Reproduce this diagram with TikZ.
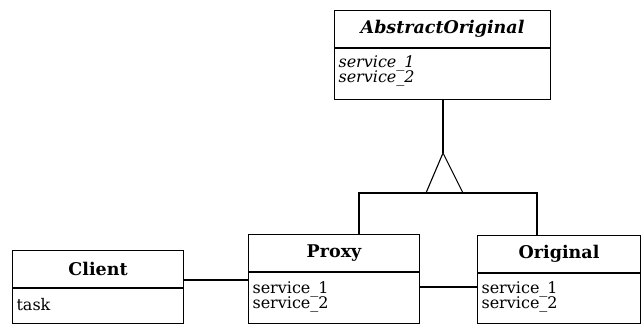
\documentclass[tikz,border=0pt]{standalone}
\usepackage{fontspec}
\setmainfont{DejaVu Serif}
\begin{document}
\begin{tikzpicture}[x=1pt,y=-1pt,line width=1.1pt,
  part/.style={draw,rectangle,inner sep=0pt,anchor=north west},
  ttl/.style={font=\fontsize{17.5}{17.5}\selectfont\bfseries},
  mem/.style={font=\fontsize{16}{16}\selectfont,anchor=base west,inner sep=0pt}]
\useasboundingbox (0,0) rectangle (641,324);
% AbstractOriginal
\node[part,ttl,minimum width=216pt,minimum height=37pt] (aoT) at (334,10) {\textit{AbstractOriginal}};
\node[part,minimum width=216pt,minimum height=51pt] (aoB) at (aoT.south west) {};
\node[mem] (ao1) at (338,67) {\textit{service\_1}};
\node[mem] (ao2) at (338,82) {\textit{service\_2}};
% Client
\node[part,ttl,minimum width=171pt,minimum height=37pt] (clientT) at (12,250) {Client};
\node[part,minimum width=171pt,minimum height=35pt] (clientB) at (clientT.south west) {};
\node[mem] (c1) at (16,310) {task};
% Proxy
\node[part,ttl,minimum width=171pt,minimum height=37pt] (proxyT) at (248,234) {Proxy};
\node[part,minimum width=171pt,minimum height=51pt] (proxyB) at (proxyT.south west) {};
\node[mem] (p1) at (252,293) {service\_1};
\node[mem] (p2) at (252,308) {service\_2};
% Original
\node[part,ttl,minimum width=163pt,minimum height=37pt] (origT) at (477,235) {Original};
\node[part,minimum width=163pt,minimum height=50pt] (origB) at (origT.south west) {};
\node[mem] (o1) at (481,293) {service\_1};
\node[mem] (o2) at (481,308) {service\_2};
% inheritance
\coordinate (apex) at (443,153);
\coordinate (tl) at (426,193);
\coordinate (tr) at (463,193);
\coordinate (pj) at (359,193);
\coordinate (oj) at (537,193);
\draw (aoB.south -| apex) -- (apex);
\draw[line join=miter] (apex) -- (tl) -- (tr) -- cycle;
\draw (pj |- proxyT.north) -- (pj) -- (oj) -- (oj |- origT.north);
% associations
\coordinate (cpy) at (0,280);
\coordinate (poy) at (0,287);
\draw (clientT.east |- cpy) -- (proxyB.west |- cpy);
\draw (proxyB.east |- poy) -- (origB.west |- poy);
\end{tikzpicture}
\end{document}
